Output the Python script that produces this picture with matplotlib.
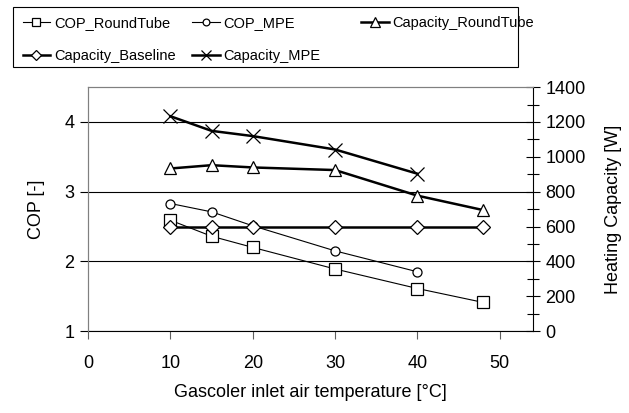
import matplotlib
matplotlib.use("Agg")
import matplotlib.pyplot as plt
from matplotlib.patches import Rectangle
from matplotlib.ticker import MultipleLocator

plt.rcParams['font.family'] = ['Liberation Sans', 'DejaVu Sans']

# data
temp = [10, 15, 20, 30, 40, 48]
temp_mpe = [10, 15, 20, 30, 40]

cop_roundtube = [2.59, 2.36, 2.20, 1.89, 1.61, 1.41]
cop_mpe = [2.83, 2.71, 2.51, 2.15, 1.85]

cap_roundtube = [933, 952, 939, 924, 777, 694]
cap_baseline = [600, 600, 600, 600, 600, 600]
cap_mpe = [1233, 1149, 1119, 1042, 903]

fig = plt.figure(figsize=(6.29, 4.13), dpi=100)
ax = fig.add_axes([0.14, 0.1985, 0.707, 0.5905])
ax2 = ax.twinx()

l1, = ax.plot(temp, cop_roundtube, color='black', lw=0.8, marker='s', ms=8.5,
              mfc='white', mec='black', mew=0.9, label='COP_RoundTube', zorder=3)
l2, = ax.plot(temp_mpe, cop_mpe, color='black', lw=0.8, marker='o', ms=6.5,
              mfc='white', mec='black', mew=0.9, label='COP_MPE', zorder=3)

l3, = ax2.plot(temp, cap_roundtube, color='black', lw=1.8, marker='^', ms=9,
               mfc='white', mec='black', mew=0.9, label='Capacity_RoundTube')
l4, = ax2.plot(temp, cap_baseline, color='black', lw=1.8, marker='D', ms=7,
               mfc='white', mec='black', mew=0.9, label='Capacity_Baseline')
l5, = ax2.plot(temp_mpe, cap_mpe, color='black', lw=1.8, marker='x', ms=9.5,
               mec='black', mew=0.9, label='Capacity_MPE')

ax.set_xlim(0, 54)
ax.set_ylim(1, 4.5)
ax2.set_ylim(0, 1400)
ax.set_xticks([0, 10, 20, 30, 40, 50])
ax.set_yticks([1, 2, 3, 4])
ax2.set_yticks(range(0, 1401, 200))
ax2.yaxis.set_minor_locator(MultipleLocator(100))

ax.yaxis.grid(True, color='black', lw=0.8)
ax.set_axisbelow(True)

for s in ['top', 'left']:
    ax.spines[s].set_color('#808080')
    ax2.spines[s].set_color('#808080')
ax.spines['right'].set_visible(False)
ax2.spines['bottom'].set_visible(False)
ax.spines['bottom'].set_color('black')
ax.spines['bottom'].set_linewidth(0.8)

ax.tick_params(axis='x', direction='out', length=6, width=0.8, color='#606060',
               labelsize=13, pad=11)
ax.tick_params(axis='y', direction='out', length=6, width=0.8, labelsize=13, pad=4)
ax2.tick_params(axis='y', which='major', direction='inout', length=10, width=0.8,
                labelsize=13, pad=4)
ax2.tick_params(axis='y', which='minor', direction='inout', length=8, width=0.8)

ax.set_xlabel('Gascoler inlet air temperature [°C]', fontsize=13, labelpad=9)
ax.set_ylabel('COP [-]', fontsize=13, labelpad=14)
ax2.set_ylabel('Heating Capacity [W]', fontsize=13, labelpad=14)

# legend: three equal-width columns inside one box, like the spreadsheet original
columns = [[l1, l4], [l2, l5], [l3]]
col_x = [0.036, 0.305, 0.574]
for handles, x in zip(columns, col_x):
    fig.legend(handles=handles, loc='upper left', bbox_to_anchor=(x, 0.961),
               fontsize=10.5, frameon=False, handlelength=1.9,
               handletextpad=0.25, borderaxespad=0, borderpad=0,
               labelspacing=1.32, markerscale=0.75)
fig.add_artist(Rectangle((0.0207, 0.838), 0.803, 0.145, transform=fig.transFigure,
                         fill=False, edgecolor='black', lw=0.8))

fig.savefig('out.png', dpi=100)
